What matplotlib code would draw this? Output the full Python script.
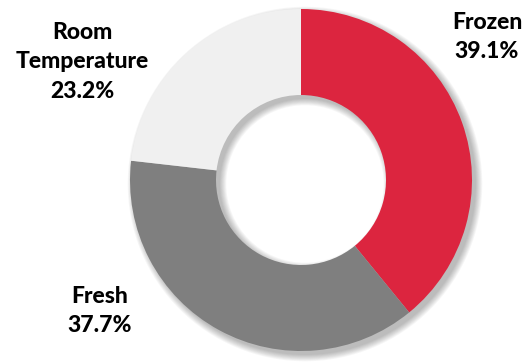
import numpy as np
import matplotlib.pyplot as plt
from matplotlib.patches import Wedge

# storage share by type
labels = ["Frozen", "Fresh", "Room\nTemperature"]
shares = [39.1, 37.7, 23.2]
colors = ["#DC253F", "#7F7F7F", "#F0F0F0"]

fig = plt.figure(figsize=(5.28, 3.62), dpi=100)
ax = fig.add_axes([0, 0, 1, 1])

cx, cy = 301, 182
r_out, r_in = 171, 85

# soft drop shadow under the ring, offset down and right
for k in range(8):
    grow = k * 0.9
    sh = Wedge((cx + 4, cy - 4), r_out + grow, 0, 360,
               width=(r_out - r_in) + 2 * grow,
               facecolor="black", alpha=0.035, lw=0, zorder=0)
    ax.add_patch(sh)

ax.pie(shares, colors=colors, startangle=90, counterclock=False,
       center=(cx, cy), radius=r_out,
       wedgeprops=dict(width=r_out - r_in, linewidth=0))

ax.set_xlim(0, 528)
ax.set_ylim(0, 362)
ax.set_aspect("equal")
ax.axis("off")

font = dict(family=["Lato", "DejaVu Sans"], fontsize=16.5, fontweight="black",
            ha="center", va="center", linespacing=1.5, color="black")
label_pos = [(487, 325), (100, 51), (82, 300)]
for lab, val, (x, y) in zip(labels, shares, label_pos):
    ax.text(x, y, f"{lab}\n{val:.1f}%", **font)

fig.savefig("out.png", dpi=100)
